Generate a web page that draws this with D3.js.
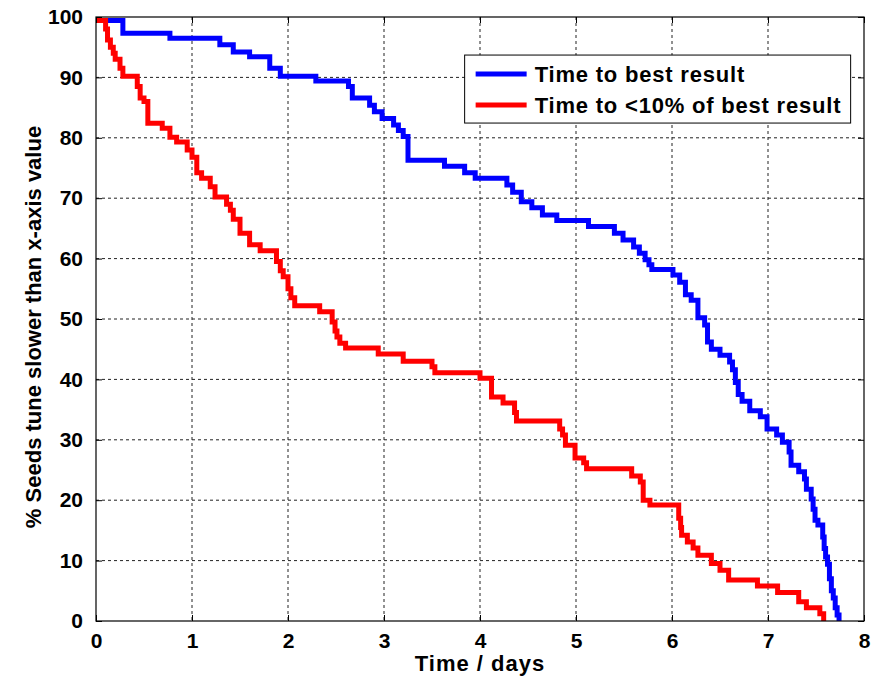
<!DOCTYPE html>
<html>
<head>
<meta charset="utf-8">
<script src="https://cdn.jsdelivr.net/npm/d3@7"></script>
<style>
  body { margin: 0; background: #fff; }
  svg text { font-family: "Liberation Sans", Arial, sans-serif; font-weight: bold; fill: #000; }
</style>
</head>
<body>
<div id="chart"></div>
<script>
// step data: [days, % seeds]
const bestTimes = [0, 0.28, 0.77, 1.29, 1.43, 1.6, 1.81, 1.92, 2.29, 2.63, 2.67, 2.85, 2.9, 2.98, 3.1, 3.15, 3.2, 3.25,
  3.63, 3.84, 3.95, 4.28, 4.34, 4.43, 4.54, 4.65, 4.8, 5.13, 5.4, 5.49, 5.6, 5.66, 5.72, 5.76, 5.79, 6.01, 6.08,
  6.14, 6.2, 6.27, 6.34, 6.37, 6.41, 6.5, 6.6, 6.63, 6.66, 6.69, 6.73, 6.81, 6.92, 6.99, 7.09, 7.15, 7.22, 7.24,
  7.32, 7.38, 7.4, 7.45, 7.47, 7.49, 7.52, 7.57, 7.585, 7.6, 7.62, 7.64, 7.66, 7.68, 7.7, 7.72, 7.74];
const bestValues = [99.4, 97.3, 96.5, 95.4, 94.2, 93.4, 91.5, 90.2, 89.4, 88.5, 86.6, 85.4, 84.3, 83.2, 82.1, 81.2, 80.2, 76.3,
  75.3, 74.2, 73.3, 72.2, 71, 69.4, 68.4, 67.2, 66.3, 65.3, 64.2, 63.1, 61.9, 60.9, 59.8, 59, 58.2, 57.3, 56.1,
  54, 53.1, 50.2, 49, 46.2, 45, 44, 42.9, 41.6, 39.5, 37.5, 36.4, 34.8, 33.8, 31.8, 30.8, 29.6, 28, 25.8,
  24.7, 23.5, 21.8, 20.2, 18.5, 16.7, 15.9, 13.9, 12, 10.6, 9.4, 7, 5, 3.8, 2.2, 1, 0];

const nearTimes = [0, 0.1, 0.12, 0.15, 0.18, 0.2, 0.25, 0.28, 0.43, 0.46, 0.5, 0.54, 0.69, 0.77, 0.84, 0.95, 1.0, 1.05,
  1.1, 1.19, 1.24, 1.36, 1.4, 1.43, 1.5, 1.6, 1.71, 1.88, 1.92, 1.95, 2.0, 2.03, 2.07, 2.33, 2.46, 2.49, 2.51,
  2.54, 2.6, 2.94, 3.2, 3.5, 3.53, 4.0, 4.12, 4.24, 4.36, 4.38, 4.83, 4.86, 4.89, 4.99, 5.08, 5.11, 5.58, 5.67,
  5.7, 5.77, 6.07, 6.09, 6.1, 6.16, 6.22, 6.27, 6.41, 6.5, 6.59, 6.89, 7.1, 7.32, 7.4, 7.54, 7.58];
const nearValues = [99.4, 98, 96.2, 95, 94, 93, 91.5, 90.2, 88.5, 86.6, 86, 82.4, 81.6, 80.1, 79.3, 78, 76.8, 74.2,
  73.3, 71.9, 70.2, 69, 68, 66.5, 64.2, 62.3, 61.3, 59.5, 58, 57, 55, 53.5, 52.2, 51.2, 49.5, 48, 47,
  46, 45.2, 44.2, 43, 42.1, 41.1, 40.2, 37.1, 36.1, 34.5, 33.1, 31.8, 30.8, 29.1, 27, 26.2, 25.2, 24, 23,
  20, 19.2, 17, 15.5, 14.2, 13.1, 12.1, 10.9, 9.5, 8.4, 6.8, 5.8, 4.7, 3.2, 2.2, 1.2, 0];

const seriesNames = ["Time to best result", "Time to <10% of best result"];
const seriesColors = ["#0000ff", "#ff0000"];
const xTicks = [0, 1, 2, 3, 4, 5, 6, 7, 8];
const yTicks = [0, 10, 20, 30, 40, 50, 60, 70, 80, 90, 100];

const W = 881, H = 680;
const margin = {top: 17, right: 17, bottom: 59, left: 96};
const width = W - margin.left - margin.right;
const height = H - margin.top - margin.bottom;

const svg = d3.select("#chart").append("svg")
  .attr("width", W)
  .attr("height", H);

const g = svg.append("g")
  .attr("transform", `translate(${margin.left},${margin.top})`);

const x = d3.scaleLinear().domain([0, 8]).range([0, width]);
const y = d3.scaleLinear().domain([0, 100]).range([height, 0]);

// grid
g.append("g")
  .selectAll("line")
  .data(xTicks.slice(1, -1))
  .enter().append("line")
  .attr("x1", d => x(d)).attr("x2", d => x(d))
  .attr("y1", 0).attr("y2", height)
  .attr("stroke", "#222").attr("stroke-width", 1).attr("stroke-dasharray", "3,3");

g.append("g")
  .selectAll("line")
  .data(yTicks.slice(1, -1))
  .enter().append("line")
  .attr("x1", 0).attr("x2", width)
  .attr("y1", d => y(d)).attr("y2", d => y(d))
  .attr("stroke", "#222").attr("stroke-width", 1).attr("stroke-dasharray", "3,3");

// curves
const line = d3.line()
  .x(d => x(d[0]))
  .y(d => y(d[1]))
  .curve(d3.curveStepAfter);

const series = [
  d3.zip(bestTimes, bestValues),
  d3.zip(nearTimes, nearValues)
];

series.forEach((s, i) => {
  g.append("path")
    .datum(s)
    .attr("fill", "none")
    .attr("stroke", seriesColors[i])
    .attr("stroke-width", 5)
    .attr("d", line);
});

// axes, ticks pointing inward
function styleAxis(sel) {
  sel.select(".domain").remove();
  sel.selectAll(".tick line").attr("stroke", "#000");
  sel.selectAll("text").style("font-size", "21px");
}

g.append("g")
  .attr("transform", `translate(0,${height})`)
  .call(d3.axisBottom(x).tickValues(xTicks).tickSize(-6).tickPadding(12).tickFormat(d3.format("d")))
  .call(styleAxis);

g.append("g")
  .call(d3.axisTop(x).tickValues(xTicks).tickSize(-6).tickFormat(""))
  .call(styleAxis);

g.append("g")
  .call(d3.axisLeft(y).tickValues(yTicks).tickSize(-6).tickPadding(13).tickFormat(d3.format("d")))
  .call(styleAxis);

g.append("g")
  .attr("transform", `translate(${width},0)`)
  .call(d3.axisRight(y).tickValues(yTicks).tickSize(-6).tickFormat(""))
  .call(styleAxis);

// frame
g.append("rect")
  .attr("width", width).attr("height", height)
  .attr("fill", "none").attr("stroke", "#000").attr("stroke-width", 1.2);

// axis labels
svg.append("text")
  .attr("x", margin.left + width / 2)
  .attr("y", 671)
  .attr("text-anchor", "middle")
  .style("font-size", "22px")
  .style("letter-spacing", "1px")
  .text("Time / days");

svg.append("text")
  .attr("transform", `translate(41,${margin.top + 310}) rotate(-90)`)
  .attr("text-anchor", "middle")
  .style("font-size", "22px")
  .text("% Seeds tune slower than x-axis value");

// legend
const legend = g.append("g")
  .attr("transform", `translate(${x(3.84)},${y(93.7)})`);

legend.append("rect")
  .attr("width", 386).attr("height", 68)
  .attr("fill", "#fff").attr("stroke", "#000").attr("stroke-width", 1);

seriesNames.forEach((name, i) => {
  const row = legend.append("g").attr("transform", `translate(0,${19 + i * 31})`);
  row.append("line")
    .attr("x1", 11).attr("x2", 62)
    .attr("stroke", seriesColors[i]).attr("stroke-width", 5);
  row.append("text")
    .attr("x", 70).attr("dy", "0.35em")
    .style("font-size", "22px")
    .style("letter-spacing", "0.8px")
    .text(name);
});
</script>
</body>
</html>
